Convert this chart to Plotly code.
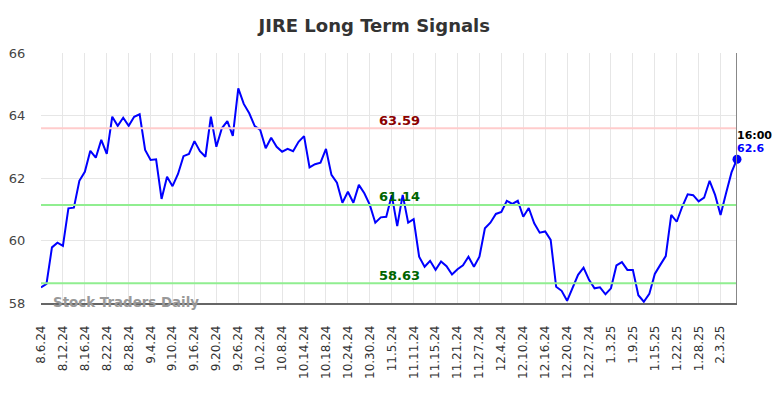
import pandas as pd
import plotly.graph_objects as go

# ---- data ----
holidays = ["2024-09-02", "2024-11-28", "2024-12-25", "2025-01-01", "2025-01-20"]
dates = [d for d in pd.bdate_range("2024-08-06", "2025-02-06")
         if d.strftime("%Y-%m-%d") not in holidays]
categories = [f"{d.month}.{d.day}.{d.strftime('%y')}" for d in dates]

prices = [
    58.50, 58.61, 59.78, 59.93, 59.83, 61.03, 61.05, 61.91, 62.20, 62.87,
    62.65, 63.22, 62.77, 63.96, 63.67, 63.93, 63.67, 63.96, 64.04, 62.90,
    62.58, 62.60, 61.33, 62.04, 61.74, 62.13, 62.70, 62.77, 63.18, 62.86,
    62.68, 63.96, 63.00, 63.59, 63.82, 63.35, 64.87, 64.37, 64.07, 63.66,
    63.54, 62.95, 63.29, 63.00, 62.84, 62.93, 62.86, 63.16, 63.34, 62.34,
    62.44, 62.49, 62.93, 62.10, 61.85, 61.21, 61.56, 61.21, 61.78, 61.51,
    61.14, 60.57, 60.74, 60.76, 61.45, 60.46, 61.46, 60.57, 60.68, 59.48,
    59.16, 59.35, 59.06, 59.33, 59.18, 58.91, 59.08, 59.21, 59.48, 59.16,
    59.48, 60.39, 60.57, 60.85, 60.91, 61.27, 61.17, 61.27, 60.76, 61.04,
    60.55, 60.25, 60.29, 60.02, 58.52, 58.39, 58.07, 58.47, 58.90, 59.13,
    58.74, 58.47, 58.50, 58.28, 58.47, 59.20, 59.31, 59.06, 59.06, 58.25,
    58.04, 58.29, 58.93, 59.22, 59.50, 60.82, 60.60, 61.08, 61.48, 61.45,
    61.25, 61.37, 61.91, 61.46, 60.82, 61.51, 62.18, 62.60,
]
assert len(categories) == len(prices), (len(categories), len(prices))

resistance = 63.59
supports = [61.14, 58.63]
y_ticks = [58, 60, 62, 64, 66]
tick_labels = categories[::4]
last_time = "16:00"

FONT = "DejaVu Sans"
last_idx = len(categories) - 1

fig = go.Figure()
fig.add_trace(go.Scatter(
    x=categories, y=prices, mode="lines",
    line=dict(color="#0000ff", width=2), hoverinfo="skip", showlegend=False,
))
fig.add_trace(go.Scatter(
    x=[categories[-1]], y=[prices[-1]], mode="markers",
    marker=dict(color="#0000ff", size=9), showlegend=False, cliponaxis=False,
))

# horizontal levels
fig.add_hline(y=resistance, line=dict(color="#ffcccc", width=2))
for s in supports:
    fig.add_hline(y=s, line=dict(color="#90ee90", width=2))

# vertical line at the last point
fig.add_shape(type="line", xref="x", yref="paper", x0=last_idx, x1=last_idx,
              y0=0, y1=1, line=dict(color="#888888", width=2))

# level labels
fig.add_annotation(x=0.515, xref="paper", y=resistance, yref="y",
                   text=f"<b>{resistance:.2f}</b>", showarrow=False,
                   font=dict(family=FONT, size=13, color="#8b0000"), yshift=8)
for s in supports:
    fig.add_annotation(x=0.515, xref="paper", y=s, yref="y",
                       text=f"<b>{s:.2f}</b>", showarrow=False,
                       font=dict(family=FONT, size=13, color="#006400"), yshift=8)

# last value labels
fig.add_annotation(x=last_idx, xref="x", y=prices[-1], yref="y",
                   text=f"<b>{last_time}</b>", showarrow=False, xanchor="left",
                   font=dict(family=FONT, size=11, color="#000000"), yshift=24, xshift=-2)
fig.add_annotation(x=last_idx, xref="x", y=prices[-1], yref="y",
                   text=f"<b>{prices[-1]:.1f}</b>", showarrow=False, xanchor="left",
                   font=dict(family=FONT, size=11, color="#0000ff"), yshift=11, xshift=-2)

# watermark
fig.add_annotation(x=0.015, xref="paper", xanchor="left", y=0, yref="paper",
                   yanchor="middle", yshift=1,
                   text="<b>Stock Traders Daily</b>", showarrow=False,
                   font=dict(family=FONT, size=13.4, color="#999999"))

# page body has an 8px margin: size the figure so the plot lands where it should
fig.update_layout(
    width=776, height=390,
    margin=dict(l=33, r=47, t=45, b=95),
    paper_bgcolor="white", plot_bgcolor="white",
    title=dict(text="<b>JIRE Long Term Signals</b>", x=0.472, xanchor="center",
               y=0.954, yanchor="middle",
               font=dict(family=FONT, size=18, color="#333333")),
    font=dict(family=FONT),
    showlegend=False,
)
fig.update_xaxes(
    type="category", range=[0, last_idx], automargin=False,
    tickmode="array", tickvals=tick_labels, ticktext=tick_labels,
    tickangle=-90, tickfont=dict(family=FONT, size=12, color="#333333"),
    showgrid=True, gridcolor="#e6e6e6", gridwidth=1,
    showline=True, linecolor="#666666", linewidth=1.5,
    ticks="outside", ticklen=16, tickcolor="rgba(0,0,0,0)", zeroline=False,
)
fig.update_yaxes(
    range=[58, 66], tickvals=y_ticks, automargin=False,
    tickfont=dict(family=FONT, size=13, color="#444444"),
    showgrid=True, gridcolor="#e6e6e6", gridwidth=1,
    showline=False, zeroline=False, ticks="outside", ticklen=12,
    tickcolor="rgba(0,0,0,0)",
)

fig.write_html("out.html")
